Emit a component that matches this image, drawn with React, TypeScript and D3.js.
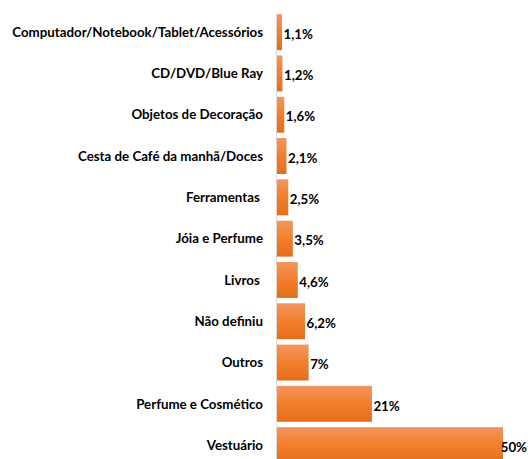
import React, { useEffect, useRef } from 'react';
import * as d3 from 'd3';

const categories = [
  'Computador/Notebook/Tablet/Acessórios',
  'CD/DVD/Blue Ray',
  'Objetos de Decoração',
  'Cesta de Café da manhã/Doces',
  'Ferramentas ',
  'Jóia e Perfume',
  'Livros ',
  'Não definiu',
  'Outros',
  'Perfume e Cosmético',
  'Vestuário',
];
const values = [1.1, 1.2, 1.6, 2.1, 2.5, 3.5, 4.6, 6.2, 7, 21, 50];
const valueLabels = ['1,1%', '1,2%', '1,6%', '2,1%', '2,5%', '3,5%', '4,6%', '6,2%', '7%', '21%', '50%'];

function App() {
  const svgRef = useRef<SVGSVGElement>(null);

  useEffect(() => {
    const width = 528;
    const height = 459;
    const svg = d3.select(svgRef.current).attr('width', width).attr('height', height);
    svg.selectAll('*').remove();

    const defs = svg.append('defs');
    const grad = defs.append('linearGradient')
      .attr('id', 'barGrad')
      .attr('x1', 0).attr('y1', 0).attr('x2', 0).attr('y2', 1);
    grad.append('stop').attr('offset', '0%').attr('stop-color', '#F3965E');
    grad.append('stop').attr('offset', '50%').attr('stop-color', '#F27F2C');
    grad.append('stop').attr('offset', '100%').attr('stop-color', '#E46D1B');

    const x = d3.scaleLinear().domain([0, 50]).range([277, 503]);
    const y = d3.scaleBand<string>()
      .domain(categories)
      .range([11.5, 11.5 + 11 * 41.3])
      .paddingInner(0.13)
      .paddingOuter(0.065);

    // axis line
    svg.append('line')
      .attr('x1', 276.5).attr('x2', 276.5)
      .attr('y1', 13).attr('y2', height)
      .attr('stroke', '#D9D9D9')
      .attr('stroke-width', 1);

    const font = 'Lato, "Open Sans", sans-serif';

    svg.selectAll('.bar')
      .data(values)
      .enter().append('rect')
      .attr('class', 'bar')
      .attr('x', x(0))
      .attr('y', (d, i) => y(categories[i])!)
      .attr('width', d => x(d) - x(0))
      .attr('height', y.bandwidth())
      .attr('fill', 'url(#barGrad)');

    svg.selectAll('.cat')
      .data(categories)
      .enter().append('text')
      .attr('class', 'cat')
      .attr('x', 263)
      .attr('y', d => y(d)! + y.bandwidth() / 2)
      .attr('dy', '0.35em')
      .attr('text-anchor', 'end')
      .style('white-space', 'pre')
      .attr('font-family', font)
      .attr('font-weight', 'bold')
      .attr('font-size', 13.3)
      .attr('fill', '#000')
      .text(d => d);

    svg.selectAll<SVGTextElement, number>('.val')
      .data(values)
      .enter().append('text')
      .attr('class', 'val')
      .attr('x', d => x(d) + 1.5)
      .attr('y', (d, i) => y(categories[i])! + y.bandwidth() / 2 + 2)
      .attr('dy', '0.35em')
      .attr('font-family', font)
      .attr('font-weight', 'bold')
      .attr('font-size', 13.3)
      .attr('fill', '#000')
      .text((d, i) => valueLabels[i])
      .each(function (d) {
        // keep the last label inside the picture, as in the original
        const w = this.getComputedTextLength();
        const px = Math.min(x(d) + 1.5, width - 1 - w);
        d3.select(this).attr('x', px);
      });
  }, []);

  return (
    <div style={{ position: 'absolute', left: 0, top: 0, width: 528, height: 459, overflow: 'hidden', background: '#fff' }}>
      <svg ref={svgRef} style={{ display: 'block' }}></svg>
    </div>
  );
}

export default App;
